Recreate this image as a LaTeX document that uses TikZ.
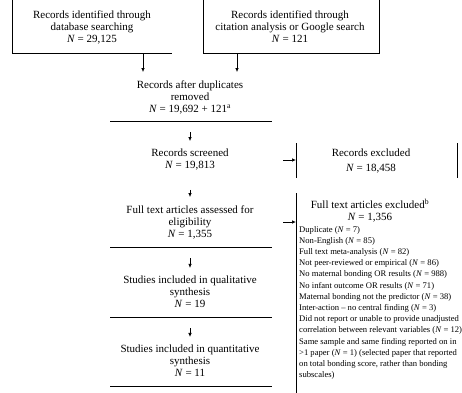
\documentclass[tikz,border=0pt]{standalone}
\usepackage{fontspec}
\setmainfont{Liberation Serif}
\usetikzlibrary{arrows.meta}

\begin{document}
\begin{tikzpicture}[x=1pt, y=-1pt,
    >={Latex[length=4pt,width=3.5pt]},
    rule/.style={line width=0.9pt},
    arr/.style={->, line width=0.7pt},
    stub/.style={->, line width=0.7pt, shorten <=11pt},
    stage/.style={align=center, font=\fontsize{11}{12}\selectfont, inner xsep=2pt, inner ysep=8pt}
  ]
  \useasboundingbox (0,0) rectangle (462,392);

  % Sources
  \node[stage] (src1) at (92,27) {Records identified through\\database searching\\\textit{N} = 29,125};
  \node[stage] (src2) at (290,27) {Records identified through\\citation analysis or Google search\\\textit{N} = 121};
  \coordinate (src1-tl) at (12,-2);
  \coordinate (src1-br) at (172,53);
  \coordinate (src2-tl) at (203,-2);
  \coordinate (src2-br) at (379,53);
  \draw[rule] (src1-tl) -- (src1-tl |- src1-br) -- (src1-br);
  \draw[rule] (src2-tl) -- (src2-tl |- src2-br) -- (src2-br) -- (src2-br |- src2-tl);

  % Main column
  \node[stage] (dedup) at (190,97) {Records after duplicates\\removed\\\textit{N} = 19,692 + 121\textsuperscript{a}};
  \node[stage] (screened) at (190,160) {Records screened\\\textit{N} = 19,813};
  \node[stage] (fulltext) at (190,222) {Full text articles assessed for\\eligibility\\\textit{N} = 1,355};
  \node[stage] (qual) at (190,292) {Studies included in qualitative\\synthesis\\\textit{N} = 19};
  \node[stage] (quant) at (190,361) {Studies included in quantitative\\synthesis\\\textit{N} = 11};

  % Rules under the stages
  \foreach \y/\n in {121/r1, 247/r2, 317/r3, 386/r4} {
    \draw[rule] (110,\y) -- (272,\y);
    \coordinate (\n) at (190,\y);
  }

  % Arrows down
  \coordinate (src1-out) at (143,53);
  \coordinate (src2-out) at (237,53);
  \draw[arr] (src1-out) -- (src1-out |- dedup.north);
  \draw[arr] (src2-out) -- (src2-out |- dedup.north);
  \draw[stub] (r1) -- (screened.north);
  \draw[stub] (screened.south) -- (fulltext.north);
  \draw[stub] (r2) -- (qual.north);
  \draw[stub] (r3) -- (quant.north);

  % Exclusions
  \coordinate (exc1-tl) at (296,143);
  \coordinate (exc1-br) at (457,178);
  \draw[rule] (exc1-tl) -- (exc1-tl |- exc1-br);
  \draw[rule] (exc1-br |- exc1-tl) -- (exc1-br);
  \node[align=center, font=\fontsize{11}{15}\selectfont] (exc1) at (371,161) {Records excluded\\\textit{N} = 18,458};

  \coordinate (exc2-tl) at (296,193);
  \coordinate (exc2-bl) at (296,395);
  \draw[rule] (exc2-tl) -- (exc2-bl);
  \node[align=center, font=\fontsize{11}{12}\selectfont] (exc2) at (370,211) {Full text articles excluded\textsuperscript{b}\\\textit{N} = 1,356};
  \node[anchor=north west, align=left, inner sep=0pt, font=\fontsize{8.6}{11.2}\selectfont] (reasons) at (299,226) {%
    Duplicate (\textit{N} = 7)\\
    Non-English (\textit{N} = 85)\\
    Full text meta-analysis (\textit{N} = 82)\\
    Not peer-reviewed or empirical (\textit{N} = 86)\\
    No maternal bonding OR results (\textit{N} = 988)\\
    No infant outcome OR results (\textit{N} = 71)\\
    Maternal bonding not the predictor (\textit{N} = 38)\\
    Inter-action -- no central finding (\textit{N} = 3)\\
    Did not report or unable to provide unadjusted\\
    correlation between relevant variables (\textit{N} = 12)\\
    Same sample and same finding reported on in\\
    >1 paper (\textit{N} = 1) (selected paper that reported\\
    on total bonding score, rather than bonding\\
    subscales)};

  % Arrows to exclusions
  \draw[arr] ([xshift=-13pt]exc1-tl |- screened) -- (exc1-tl |- screened);
  \draw[arr] ([xshift=-13pt]exc2-tl |- fulltext) -- (exc2-tl |- fulltext);
\end{tikzpicture}
\end{document}
